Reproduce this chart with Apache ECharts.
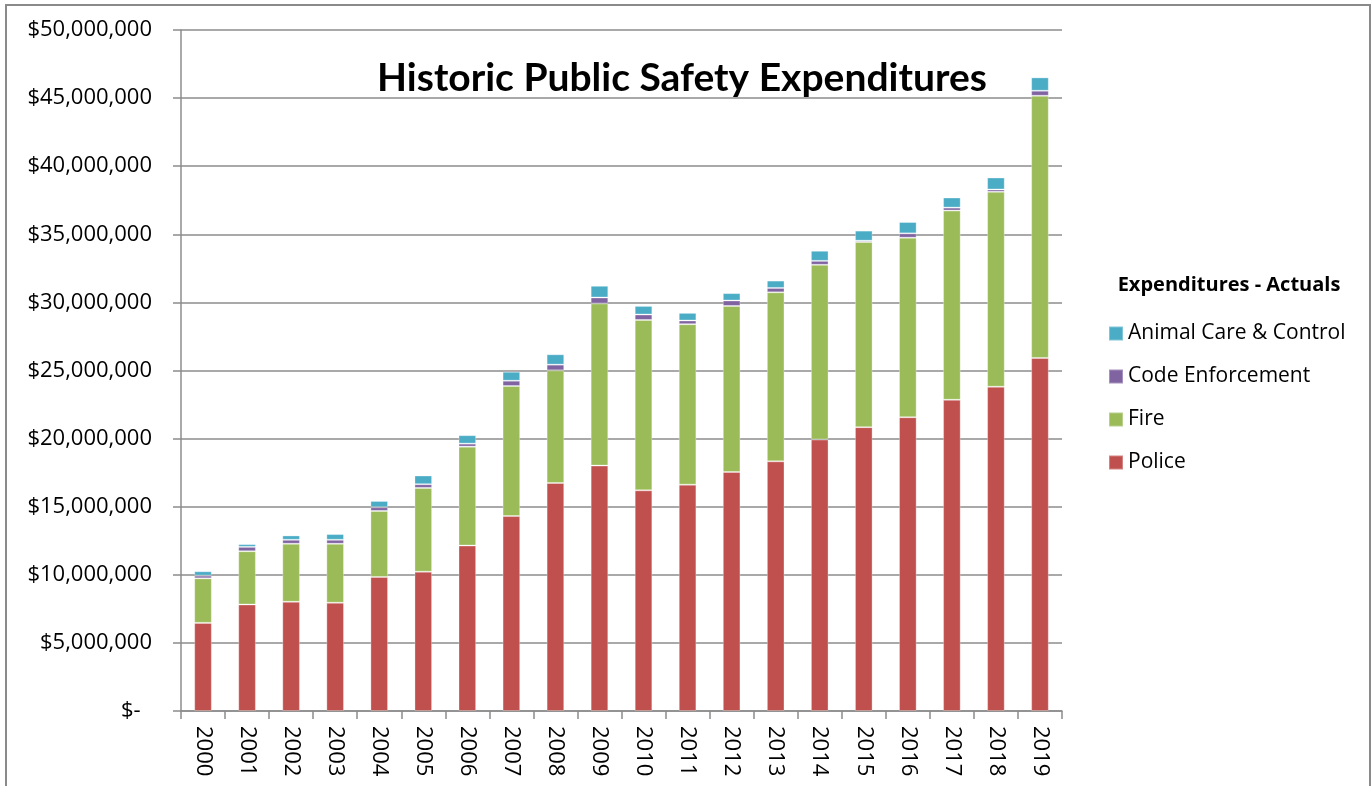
<!DOCTYPE html>
<html>
<head>
<meta charset="utf-8">
<title>Historic Public Safety Expenditures</title>
<script src="https://cdn.jsdelivr.net/npm/echarts@6/dist/echarts.min.js"></script>
<style>
    html, body { margin: 0; padding: 0; background: #ffffff; }
    #chart { width: 1372px; height: 786px; }
</style>
</head>
<body>
<div id="chart"></div>
<script>
// Years on the x axis
const years = ['2000', '2001', '2002', '2003', '2004', '2005', '2006', '2007', '2008', '2009',
    '2010', '2011', '2012', '2013', '2014', '2015', '2016', '2017', '2018', '2019'];

// Expenditures per department (dollars)
const police = [6470000, 7820000, 8020000, 7950000, 9840000, 10230000, 12150000, 14310000, 16740000, 18020000,
    16200000, 16620000, 17550000, 18330000, 19930000, 20840000, 21570000, 22850000, 23810000, 25920000];
const fire = [3270000, 3910000, 4260000, 4330000, 4850000, 6150000, 7260000, 9550000, 8270000, 11900000,
    12510000, 11780000, 12190000, 12410000, 12830000, 13590000, 13180000, 13890000, 14310000, 19250000];
const codeEnforcement = [200000, 320000, 290000, 290000, 270000, 270000, 220000, 390000, 420000, 440000,
    400000, 270000, 400000, 320000, 290000, 100000, 320000, 220000, 170000, 370000];
const animalCare = [320000, 200000, 320000, 420000, 460000, 640000, 620000, 660000, 760000, 860000,
    630000, 560000, 540000, 540000, 740000, 740000, 830000, 740000, 880000, 980000];

// Y axis ticks
const yMax = 50000000;
const yStep = 5000000;

const chart = echarts.init(document.getElementById('chart'));

// Excel style accounting labels
const formatDollars = (value) => {
    if (value === 0) return '$-  ';
    return '$' + value.toLocaleString('en-US');
};

const makeSeries = (name, data, color) => ({
    name: name,
    type: 'bar',
    stack: 'total',
    data: data,
    barWidth: '40%',
    itemStyle: {
        color: color,
        borderColor: 'rgba(255,255,255,0.3)',
        borderWidth: 1
    }
});

const option = {
    backgroundColor: '#ffffff',
    animation: false,
    textStyle: { fontFamily: 'Open Sans' },
    title: [
        {
            text: 'Historic Public Safety Expenditures',
            left: 677,
            top: 54,
            textAlign: 'center',
            textStyle: {
                fontFamily: 'Lato',
                fontWeight: 'bold',
                fontSize: 39,
                color: '#000000'
            }
        },
        {
            text: 'Expenditures - Actuals',
            left: 1224,
            top: 270,
            textAlign: 'center',
            textStyle: {
                fontFamily: 'Open Sans',
                fontWeight: 'bold',
                fontSize: 20,
                color: '#000000'
            }
        }
    ],
    legend: {
        data: ['Animal Care & Control', 'Code Enforcement', 'Fire', 'Police'],
        orient: 'vertical',
        left: 1103,
        top: 318,
        itemWidth: 14,
        itemHeight: 14,
        itemGap: 22,
        icon: 'rect',
        textStyle: {
            fontFamily: 'Open Sans',
            fontSize: 21,
            color: '#000000'
        }
    },
    grid: {
        left: 181,
        right: 310,
        top: 30,
        bottom: 75,
        containLabel: false
    },
    xAxis: {
        type: 'category',
        data: years,
        axisLine: { lineStyle: { color: '#8c8c8c', width: 1.5 } },
        axisTick: { show: true, length: 8, lineStyle: { color: '#8c8c8c', width: 1.5 } },
        axisLabel: {
            rotate: -90,
            margin: 15,
            fontSize: 22,
            color: '#000000',
            fontFamily: 'Open Sans'
        }
    },
    yAxis: {
        type: 'value',
        min: 0,
        max: yMax,
        interval: yStep,
        axisLine: { show: true, lineStyle: { color: '#8c8c8c', width: 1.5 } },
        axisTick: { show: true, length: 8, lineStyle: { color: '#8c8c8c', width: 1.5 } },
        splitLine: { lineStyle: { color: '#8c8c8c', width: 1.5 } },
        axisLabel: {
            margin: 29,
            fontSize: 22,
            color: '#000000',
            fontFamily: 'Open Sans',
            formatter: formatDollars
        }
    },
    graphic: [
        {
            type: 'rect',
            shape: { x: 6, y: 5, width: 1364, height: 800 },
            style: { fill: 'none', stroke: '#8a8a8a', lineWidth: 2 },
            silent: true
        }
    ],
    series: [
        makeSeries('Police', police, '#C0504D'),
        makeSeries('Fire', fire, '#9BBB59'),
        makeSeries('Code Enforcement', codeEnforcement, '#8064A2'),
        makeSeries('Animal Care & Control', animalCare, '#4BACC6')
    ]
};

chart.setOption(option);
</script>
</body>
</html>
